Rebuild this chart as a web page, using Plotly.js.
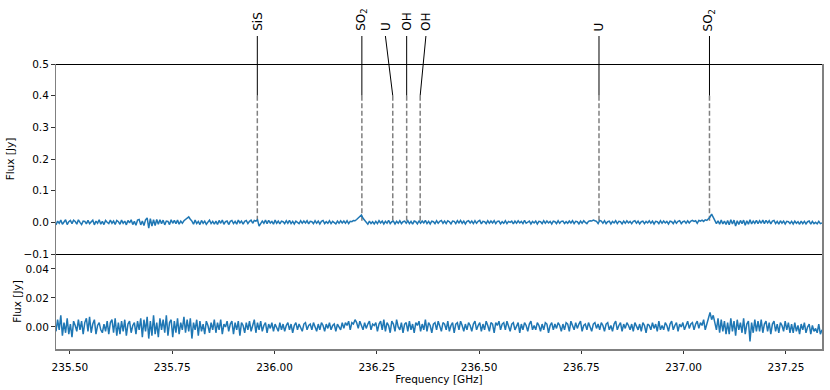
<!DOCTYPE html>
<html>
<head>
<meta charset="utf-8">
<script src="https://cdn.plot.ly/plotly-3.0.1.min.js"></script>
<style>
  body { margin: 0; background: #fff; }
  #grafico { width: 830px; height: 390px; }
</style>
</head>
<body>
<div id="grafico"></div>
<script>
// Canal de frequência: início e largura (GHz)
const freqStart = 235.466;
const chanWidth = 0.003908;

// Espectro superior (mJy)
const fluxTopMJy = [
    -8, 4, -3, 7, -6, 3, 8, -7, 2, 6, -4, 7, 3, -6, 8, 0, -7, 4, 3, -5,
    6, -4, 2, 7, -8, 4, -3, 8, -6, 3, -7, 6, 0, -4, 7, -3, 4, -7, 6, 2,
    -6, 7, -3, 4, -8, 6, -2, 8, -7, 3, -9, 7, 9, -8, 4, -10, 8, 14, -18, 12,
    -12, 8, -10, 9, -6, 8, -4, 7, -8, 4, 3, -7, 8, -3, 6, -4, 7, -6, 4, -3,
    5, 9, 13, 17, 10, 4, -6, 7, -4, 3, -7, 6, -3, 4, -6, 2, 7, -4, 3, -6,
    4, -7, 6, -3, 7, -6, 2, 4, -7, 3, 6, -4, 3, -6, 7, -2, 4, -6, 3, 6,
    -4, 3, 7, -3, 6, 4, 8, -12, -5, 4, -3, 7, -4, 6, -2, 3, -6, 7, -3, 4,
    -5, 4, 2, -4, 5, -3, 6, -4, 3, -5, 4, 0, -4, 5, -3, 4, -2, 5, -5, 3,
    2, -4, 5, -3, 4, -5, 3, 6, -4, 2, -3, 5, -4, 3, 0, -5, 4, -3, 5, -2,
    4, -3, 5, -4, 3, 2, 6, 5, 9, 14, 19, 23, 13, 6, -3, -6, 4, -4, 2, -5,
    3, -4, 5, -2, 4, -5, 3, -3, 6, -4, 2, 4, -5, 3, -3, 5, -4, 2, 4, -3,
    5, -4, 3, -6, 4, 2, -5, 5, -3, 4, -2, 6, -4, 3, -5, 4, 2, -4, 5, -3,
    3, 6, -3, 4, -4, 5, 2, -5, 4, 3, -4, 5, -2, 6, -3, 4, -5, 3, 5, -2,
    4, -4, 5, -3, 3, 6, -5, 3, 2, -4, 5, -3, 4, -2, 5, -4, 3, 4, -5, 2,
    -3, 5, -4, 3, 0, 4, -5, 4, -3, 5, -2, 3, -4, 6, -3, 2, 4, -5, 3, -2,
    4, -5, 3, 2, -4, 5, -3, 4, -2, 3, -5, 4, 2, -4, 5, -3, 3, 4, -4, 2,
    -3, 4, -2, 5, -4, 3, 2, -5, 4, -3, 5, 0, -4, 3, 5, 4, 7, 5, 3, -4,
    6, 4, -3, 5, -4, 2, 4, -5, 3, -2, 5, -4, 3, 2, -5, 4, -3, 5, -2, 3,
    -4, 3, 5, -3, 4, -5, 2, 4, -4, 3, -2, 5, -3, 4, -5, 3, 2, -4, 5, -3,
    4, -2, 3, -5, 4, 2, -4, 5, -3, 3, 5, -4, 2, 4, -3, 5, -2, 4, 6, 3,
    5, -3, 6, 4, 7, 3, 8, 6, 11, 17, 26, 15, 7, -4, 5, -6, 7, -5, 4, -7,
    6, -8, 8, -5, 7, -12, 5, -7, 6, -4, 7, -9, 5, -6, 8, -5, 4, -3, 6, -4,
    5, -3, 7, -4, 6, -2, 5, -5, 4, 6, -4, 3, -6, 5, -3, 4, -5, 3, 2, -4,
    3, -5, 4, -3, 2, -6, 4, -4, 3, -5, 2, 4, -6, 3, -4, 0, -5, 3, -4, -2
];

// Espectro inferior (mJy)
const fluxBottomMJy = [
    -3, 5, -2, 8, -6, 3, -4, 6, -5, 2, -7, 4, 1, -3, 5, -2, 4, -5, 3, 6,
    -3, 7, -4, 2, 5, -5, 1, 3, -2, -4, 2, -3, 4, -5, 3, 5, -4, 6, -6, 3,
    -5, 4, -3, 5, -6, 2, 4, -4, 1, 3, -5, 4, -2, 6, -7, 5, -3, 7, -8, 4,
    -6, 8, -5, 3, -7, 6, -2, 5, -4, 8, -6, 3, 5, -7, 4, -4, 6, -5, 3, -2,
    7, -4, 5, -3, 6, -8, 3, -2, 5, -6, 4, -3, 2, -5, 4, 1, -4, 3, -2, 5,
    -4, 3, -2, 5, -5, 2, 0, 4, -3, 2, 4, -5, 3, -2, 4, -6, 3, 1, -4, 3,
    -2, 4, -3, 2, 5, -4, 3, -2, 4, -3, 1, 3, -4, 2, -1, 3, -3, 2, 0, -3,
    3, -2, 2, -3, 1, 3, -2, 2, -4, 1, 3, -2, 2, 0, -3, 2, 3, -2, 1, 2,
    -2, 3, 0, -3, 2, -2, 3, 1, -3, 2, -1, 3, -2, 1, 2, -3, 2, 0, -2, 3,
    -1, 3, 1, 4, -2, 3, 2, 5, 3, -1, 4, 1, -2, 3, -1, 2, 4, -2, 2, 1,
    3, -3, 2, 4, -2, 5, -3, 3, 1, -4, 4, 2, -3, 5, 0, -2, 3, -4, 2, 3,
    -3, 4, -2, 2, -4, 3, 1, 4, -3, 2, -2, 5, -3, 3, 1, -4, 2, 3, -2, 4,
    1, -3, 3, 2, -2, 4, -3, 1, 3, -4, 2, 3, -2, 4, 1, -3, 2, -2, 3, 1,
    -3, 2, 4, -2, 1, 3, -3, 2, -2, 4, 1, -3, 3, 2, -4, 3, 1, 4, -2, 2,
    3, -2, 4, 1, -3, 2, 3, -2, 1, 3, -4, 2, -2, 3, 1, -3, 2, 4, -2, 1,
    -2, 3, 1, -3, 2, -2, 3, 2, -4, 1, 3, -2, 2, -1, 3, 1, -3, 2, -2, 3,
    2, -3, 4, 1, -2, 3, -1, 2, 4, -3, 1, 2, -2, 3, 0, -3, 2, 3, -1, 2,
    -2, 3, 1, -3, 2, 3, -2, 1, -3, 2, 4, -2, 1, 3, -3, 2, -1, 3, 1, -2,
    2, -3, 3, 1, -2, 2, -3, 3, 1, -4, 2, 1, -2, 3, -1, 2, -3, 4, -2, 1,
    -2, 3, 1, -3, 2, 4, -2, 1, 3, -3, 2, 0, 3, -2, 1, 4, -1, 2, 3, -2,
    2, 4, -1, 3, 1, 5, -2, 3, 6, 10, 5, 8, 3, -2, 6, -4, 5, -3, 4, -5,
    3, -5, 6, -3, 4, -6, 5, -2, 3, -4, 6, -5, 2, 4, -10, 3, -4, 5, -3, 4,
    -3, 5, -4, 2, 4, -3, 3, -5, 2, 4, -3, 2, -4, 3, 1, -3, 4, -2, 3, -4,
    2, -4, 3, -3, 1, -5, 2, -2, 3, -4, 0, 2, -5, 1, -3, -1, -4, 2, -5, -2
];

// Linhas identificadas
const lineNames = ['SiS', 'SO<sub>2</sub>', 'U', 'OH', 'OH', 'U', 'SO<sub>2</sub>'];
const lineFreqs = [235.958, 236.2135, 236.289, 236.323, 236.356, 236.793, 237.063];
const labelFreqs = [235.958, 236.2135, 236.271, 236.323, 236.370, 236.793, 237.063];

const xTicks = [235.5, 235.75, 236.0, 236.25, 236.5, 236.75, 237.0, 237.25];

const xRange = [235.466, 237.338];
const topRange = [-0.1, 0.5];
const topDomain = [1 / 3, 1];
const plotHeight = 390 - 64 - 41;

const freqsTop = fluxTopMJy.map((v, i) => freqStart + i * chanWidth);
const freqsBottom = fluxBottomMJy.map((v, i) => freqStart + i * chanWidth);

const fonte = { family: 'DejaVu Sans', size: 10.5, color: '#000' };
const azul = '#1f77b4';

const data = [
    {
        x: freqsTop,
        y: fluxTopMJy.map(v => v / 1000),
        xaxis: 'x2',
        yaxis: 'y',
        type: 'scatter',
        mode: 'lines',
        line: { color: azul, width: 1.5 },
        hoverinfo: 'skip'
    },
    {
        x: freqsBottom,
        y: fluxBottomMJy.map(v => v / 1000),
        xaxis: 'x',
        yaxis: 'y2',
        type: 'scatter',
        mode: 'lines',
        line: { color: azul, width: 1.5 },
        hoverinfo: 'skip'
    }
];

// posição (papel) do nível 0.4 Jy no painel superior
const yMarca = topDomain[0] + (topDomain[1] - topDomain[0]) * (0.4 - topRange[0]) / (topRange[1] - topRange[0]);
const ySolidoTopo = 1 + 28 / plotHeight;
const yRotulo = 1 + 31 / plotHeight;
const meioPx = 0.5 / plotHeight;

// Linhas tracejadas até o espectro
const shapes = lineFreqs.map(f => ({
    type: 'line', xref: 'x2', yref: 'y', layer: 'below',
    x0: f, x1: f, y0: 0.4, y1: 0.005,
    line: { color: '#808080', width: 1.5, dash: '5px,2.5px' }
}));
// Ligações sólidas entre rótulo e linha
lineFreqs.forEach((f, i) => {
    shapes.push({
        type: 'line', xref: 'x2', yref: 'paper',
        x0: f, x1: labelFreqs[i], y0: yMarca, y1: ySolidoTopo,
        line: { color: '#000', width: 1 }
    });
});
// Bordas pretas: topo e separador
shapes.push({ type: 'line', xref: 'paper', yref: 'paper', x0: 0, x1: 1, y0: 1 - meioPx, y1: 1 - meioPx,
    line: { color: '#000', width: 1 } });
shapes.push({ type: 'line', xref: 'paper', yref: 'paper', x0: 0, x1: 1, y0: 1 / 3 - meioPx, y1: 1 / 3 - meioPx,
    line: { color: '#000', width: 1 } });

// Rótulos das linhas
const annotations = lineNames.map((nome, i) => ({
    text: nome,
    xref: 'x2', yref: 'paper',
    x: labelFreqs[i], y: yRotulo,
    xanchor: 'center',
    yanchor: 'bottom',
    textangle: -90,
    showarrow: false,
    font: { family: 'DejaVu Sans', size: 12, color: '#000' }
}));

const eixoBase = {
    showgrid: false,
    zeroline: false,
    showline: true,
    linecolor: '#808080',
    linewidth: 1.5,
    ticks: 'outside',
    ticklen: 3.5,
    tickwidth: 1,
    tickcolor: '#333',
    tickfont: fonte
};

const layout = {
    width: 830,
    height: 390,
    margin: { l: 56, r: 8, t: 64, b: 41 },
    paper_bgcolor: '#fff',
    plot_bgcolor: '#fff',
    showlegend: false,
    xaxis: Object.assign({}, eixoBase, {
        anchor: 'y2',
        domain: [0, 1],
        range: xRange,
        tickvals: xTicks,
        tickformat: '.2f',
        ticklabelstandoff: 4,
        title: { text: 'Frequency [GHz]', font: fonte, standoff: 1 }
    }),
    xaxis2: Object.assign({}, eixoBase, {
        anchor: 'y',
        matches: 'x',
        domain: [0, 1],
        range: xRange,
        showline: false,
        ticks: '',
        showticklabels: false
    }),
    yaxis: Object.assign({}, eixoBase, {
        anchor: 'x2',
        domain: topDomain,
        range: topRange,
        mirror: true,
        dtick: 0.1,
        tickformat: '.1f',
        title: { text: 'Flux [Jy]', font: fonte, standoff: 6 }
    }),
    yaxis2: Object.assign({}, eixoBase, {
        anchor: 'x',
        domain: [0, 1 / 3],
        range: [-0.0152, 0.0503],
        mirror: true,
        tickvals: [0, 0.02, 0.04],
        tickformat: '.2f',
        title: { text: 'Flux [Jy]', font: fonte, standoff: 2 }
    }),
    shapes: shapes,
    annotations: annotations
};

Plotly.newPlot('grafico', data, layout, { displayModeBar: false, staticPlot: true });
</script>
</body>
</html>
